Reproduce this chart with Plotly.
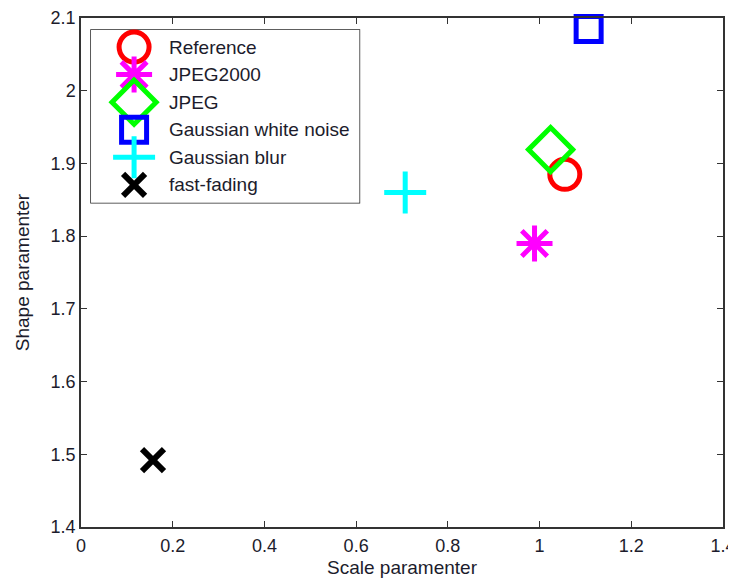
import plotly.graph_objects as go

names = ["Reference", "JPEG2000", "JPEG", "Gaussian white noise", "Gaussian blur", "fast-fading"]
scale_vals = [1.055, 0.989, 1.024, 1.107, 0.707, 0.157]
shape_vals = [1.885, 1.790, 1.919, 2.085, 1.860, 1.492]
colors = ["#ff0000", "#ff00ff", "#00ff00", "#0000ff", "#00ffff", "#000000"]
symbols = ["circle-open", "asterisk-open", "diamond-open", "square-open", "cross-thin-open", "x-thin-open"]
sizes = [30, 30, 34, 25, 30, 22]
widths = [5, 5, 5, 5, 5, 6]
x_ticks = [0, 0.2, 0.4, 0.6, 0.8, 1, 1.2, 1.4]
x_tick_text = ["0", "0.2", "0.4", "0.6", "0.8", "1", "1.2", "1.4"]
y_ticks = [1.4, 1.5, 1.6, 1.7, 1.8, 1.9, 2.0, 2.1]
y_tick_text = ["1.4", "1.5", "1.6", "1.7", "1.8", "1.9", "2", "2.1"]

TXT = "#1c1c2c"
FONT = "Liberation Sans, Arial"

fig = go.Figure()
for n, xv, yv, c, s, sz, w in zip(names, scale_vals, shape_vals, colors, symbols, sizes, widths):
    fig.add_trace(go.Scatter(
        x=[xv], y=[yv], mode="markers", name=n, showlegend=False,
        marker=dict(symbol=s, size=sz, color=c, line=dict(color=c, width=w)),
        cliponaxis=False,
    ))

# legend drawn on an overlay axis (row index as y)
for i, (n, c, s, sz, w) in enumerate(zip(names, colors, symbols, sizes, widths)):
    fig.add_trace(go.Scatter(
        x=[43], y=[i], xaxis="x2", yaxis="y2", mode="markers", showlegend=False,
        marker=dict(symbol=s, size=sz, color=c, line=dict(color=c, width=w)),
        cliponaxis=False, hoverinfo="skip",
    ))
    fig.add_annotation(x=76, y=i, xref="x2", yref="y2", text=n, showarrow=False,
                       xanchor="left", yanchor="middle",
                       font=dict(family=FONT, size=19, color=TXT))

leg_x0, leg_x1 = 0.0156, 0.4337
leg_y0, leg_y1 = 0.637, 0.9765
fig.add_shape(type="rect", xref="paper", yref="paper", x0=leg_x0, x1=leg_x1, y0=leg_y0, y1=leg_y1,
              line=dict(color="#222222", width=1.5), fillcolor="white", layer="below")

axis_common = dict(
    showgrid=False, zeroline=False, showline=True, linecolor="#333333", linewidth=1.5,
    mirror="ticks", ticks="inside", ticklen=6, tickcolor="#333333", automargin=False,
    tickfont=dict(family=FONT, size=18, color=TXT),
)

fig.update_layout(
    width=728, height=575,
    margin=dict(l=73, r=13, t=10, b=56),
    plot_bgcolor="white", paper_bgcolor="white",
    font=dict(family=FONT, size=18, color=TXT),
    xaxis=dict(range=[0, 1.4], tickvals=x_ticks, ticktext=x_tick_text,
               ticklabelstandoff=2,
               title=dict(text="Scale paramenter", standoff=5, font=dict(size=19)), **axis_common),
    yaxis=dict(range=[1.4, 2.1], tickvals=y_ticks, ticktext=y_tick_text,
               ticklabelstandoff=0,
               title=dict(text="Shape paramenter", standoff=16, font=dict(size=19)), **axis_common),
    xaxis2=dict(domain=[leg_x0, leg_x1], range=[0, 268], visible=False, fixedrange=True, anchor="y2"),
    yaxis2=dict(domain=[leg_y0, leg_y1], range=[5.65, -0.62], visible=False, fixedrange=True, anchor="x2"),
    showlegend=False,
)

fig.write_html("out.html")
